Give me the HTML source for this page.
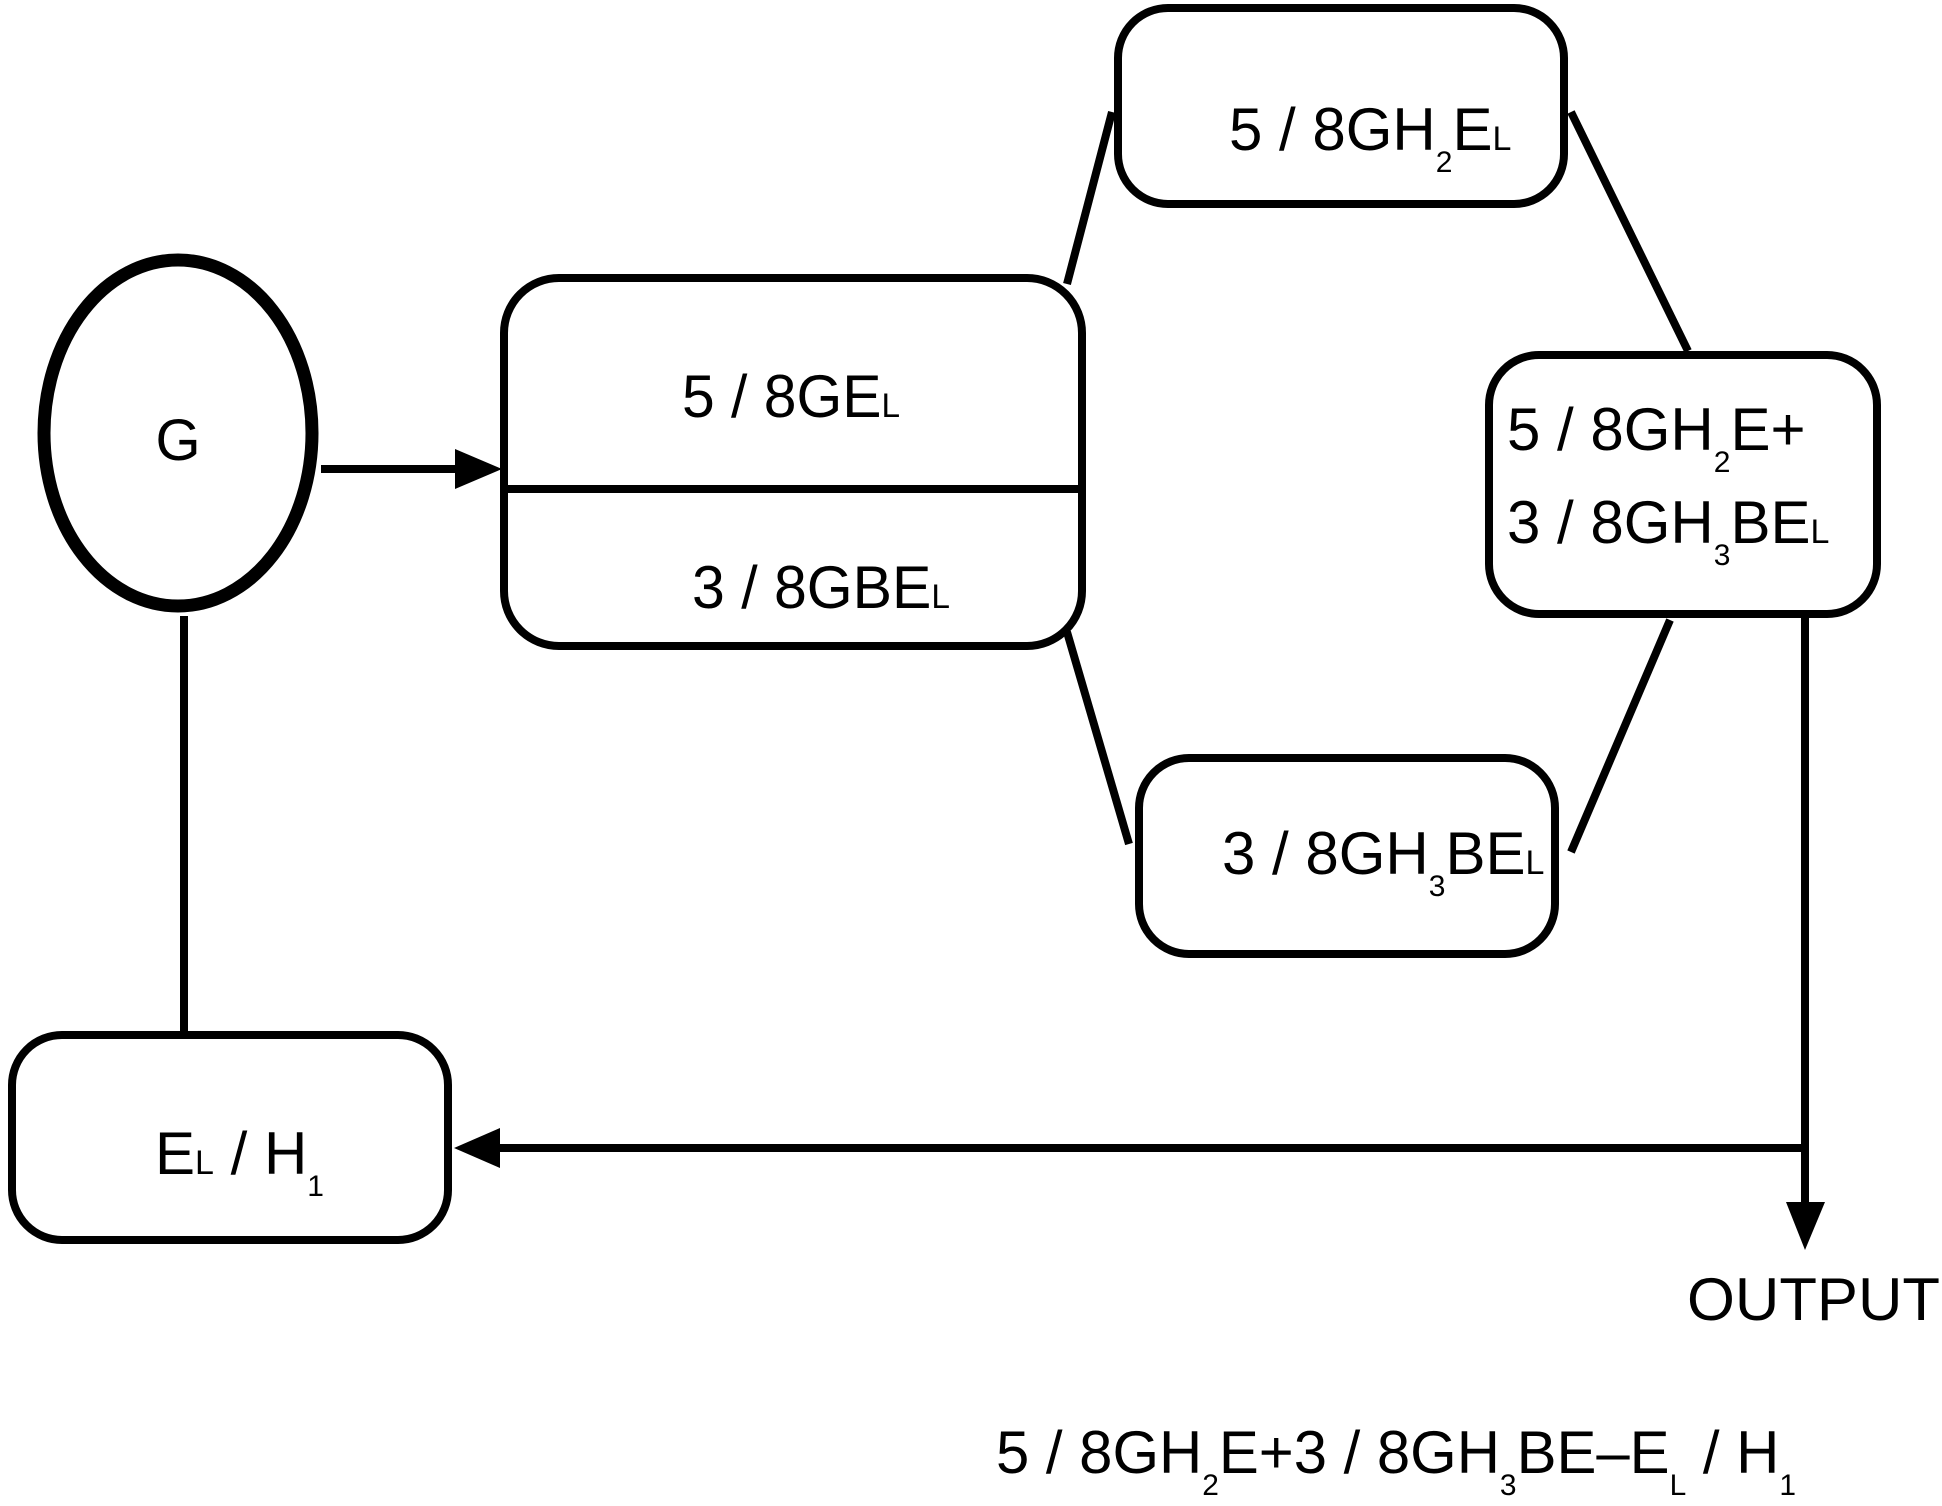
<!DOCTYPE html>
<html><head><meta charset="utf-8"><style>
html,body{margin:0;padding:0;background:#fff;}
svg{display:block;}
text{font-family:"Liberation Sans",sans-serif;fill:#000;}
</style></head><body>
<svg width="1942" height="1506" viewBox="0 0 1942 1506" xmlns="http://www.w3.org/2000/svg">
<g fill="none" stroke="#000" stroke-width="8">
<ellipse cx="178" cy="433" rx="134" ry="173" stroke-width="13"/>
<rect x="504" y="278" width="578" height="368" rx="55"/>
<line x1="504" y1="489" x2="1082" y2="489"/>
<rect x="1118" y="8" width="446" height="196" rx="50"/>
<rect x="1489" y="355" width="388" height="259" rx="50"/>
<rect x="1139" y="758" width="416" height="196" rx="50"/>
<rect x="12" y="1035" width="436" height="205" rx="50"/>
<line x1="1067" y1="284" x2="1112" y2="112"/>
<line x1="1571" y1="112" x2="1688" y2="351"/>
<line x1="1067" y1="632" x2="1129" y2="844"/>
<line x1="1670" y1="620" x2="1571" y2="852"/>
<line x1="184" y1="616" x2="184" y2="1035"/>
<line x1="321" y1="469" x2="460" y2="469"/>
<line x1="1805" y1="615" x2="1805" y2="1205"/>
<line x1="1805" y1="1148" x2="495" y2="1148"/>
</g>
<polygon points="502,469 455,449 455,489" fill="#000"/>
<polygon points="454,1148 500,1128 500,1168" fill="#000"/>
<polygon points="1805,1250 1786,1202 1825,1202" fill="#000"/>

<text x="178" y="460" font-size="58" text-anchor="middle">G</text>
<text x="682" y="417" font-size="60" textLength="218" lengthAdjust="spacingAndGlyphs">5 / 8GE<tspan font-size="34">L</tspan></text>
<text x="692" y="608" font-size="60" textLength="258" lengthAdjust="spacingAndGlyphs">3 / 8GBE<tspan font-size="34">L</tspan></text>
<text x="1229" y="150" font-size="60">5 / 8GH<tspan font-size="30" dy="22">2</tspan><tspan dy="-22">E</tspan><tspan font-size="34">L</tspan></text>
<text x="1507" y="450" font-size="60">5 / 8GH<tspan font-size="30" dy="22">2</tspan><tspan dy="-22">E+</tspan></text>
<text x="1507" y="543" font-size="60">3 / 8GH<tspan font-size="30" dy="22">3</tspan><tspan dy="-22">BE</tspan><tspan font-size="34">L</tspan></text>
<text x="1222" y="874" font-size="60">3 / 8GH<tspan font-size="30" dy="22">3</tspan><tspan dy="-22">BE</tspan><tspan font-size="34">L</tspan></text>
<text x="155" y="1174" font-size="60">E<tspan font-size="34">L</tspan> / H<tspan font-size="30" dy="22">1</tspan></text>
<text x="1687" y="1320" font-size="60" textLength="253" lengthAdjust="spacingAndGlyphs">OUTPUT</text>
<text x="996" y="1473" font-size="60" textLength="800" lengthAdjust="spacingAndGlyphs">5 / 8GH<tspan font-size="30" dy="22">2</tspan><tspan dy="-22">E+3 / 8GH</tspan><tspan font-size="30" dy="22">3</tspan><tspan dy="-22">BE–E</tspan><tspan font-size="30" dy="22">L</tspan><tspan dy="-22"> / H</tspan><tspan font-size="30" dy="22">1</tspan></text>
</svg>
</body></html>
